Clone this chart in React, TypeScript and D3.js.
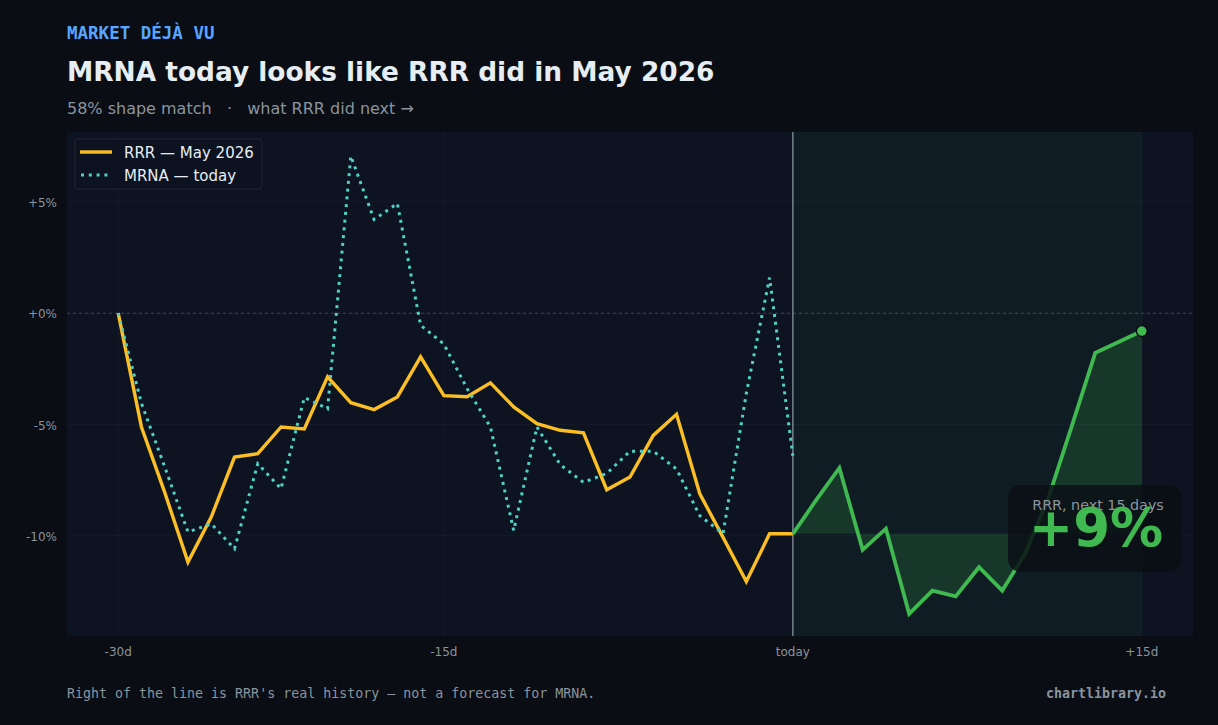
import * as d3 from 'd3';

const W = 1218;
const H = 725;

// day index: 0 = -30d ... 29 = today ... 44 = +15d
const rrrPast = [
  0, -5.11, -8.05, -11.18, -9.16, -6.46, -6.31, -5.11, -5.2, -2.86,
  -4.02, -4.33, -3.76, -1.96, -3.7, -3.75, -3.13, -4.21, -4.96, -5.26,
  -5.37, -7.93, -7.36, -5.49, -4.54, -8.11, -10.07, -12.05, -9.91, -9.91,
];
const mrnaPast = [
  0, -4.05, -6.9, -9.83, -9.46, -10.58, -6.76, -7.88, -3.79, -4.29,
  7.06, 4.21, 4.93, -0.54, -1.39, -3.39, -5.11, -9.76, -5.11, -6.8,
  -7.6, -7.2, -6.2, -6.2, -7.0, -9.1, -9.9, -3.6, 1.6, -6.4,
];
const rrrNext = [
  -9.91, -8.4, -6.95, -10.63, -9.68, -13.5, -12.46, -12.72, -11.41, -12.46,
  -10.78, -8.25, -5.04, -1.78, -1.29, -0.8,
];

const xTicks = [0, 14, 29, 44];
const xTickLabels = ['-30d', '-15d', 'today', '+15d'];
const yTicks = [5, 0, -5, -10];
const yTickLabels = ['+5%', '+0%', '-5%', '-10%'];

const TODAY = 29;
const FONT = "'DejaVu Sans', sans-serif";
const MONO = "'DejaVu Sans Mono', monospace";

export default function App() {
  const plot = { left: 67, right: 1193, top: 132, bottom: 636 };

  const x = d3.scaleLinear().domain([-2.2, 46.2]).range([plot.left, plot.right]);
  const y = d3.scaleLinear().domain([-14.5, 8.14]).range([plot.bottom, plot.top]);

  const past = (arr: number[]) => arr.map((v, i) => [i, v] as [number, number]);
  const next = rrrNext.map((v, i) => [TODAY + i, v] as [number, number]);

  const line = d3.line<[number, number]>().x(d => x(d[0])).y(d => y(d[1]));
  const area = d3
    .area<[number, number]>()
    .x(d => x(d[0]))
    .y0(y(rrrNext[0]))
    .y1(d => y(d[1]));

  const green = '#3fb950';
  const orange = '#fbbf24';
  const cyan = '#4fd1c5';
  const muted = '#8b949e';

  const last = next[next.length - 1];

  return (
    <svg width={W} height={H} style={{ position: 'fixed', left: 0, top: 0 }}>
      <rect width={W} height={H} fill="#0a0d14" />

      {/* plot background */}
      <rect x={plot.left} y={plot.top} width={plot.right - plot.left} height={plot.bottom - plot.top} fill="#0d1321" />
      <rect
        x={x(TODAY)}
        y={plot.top}
        width={x(44) - x(TODAY)}
        height={plot.bottom - plot.top}
        fill={green}
        opacity={0.06}
      />

      {/* grid */}
      {xTicks.map(t => (
        <line key={'gx' + t} x1={x(t)} x2={x(t)} y1={plot.top} y2={plot.bottom} stroke="#ffffff" strokeOpacity={0.035} />
      ))}
      {yTicks.map(t => (
        <line key={'gy' + t} x1={plot.left} x2={plot.right} y1={y(t)} y2={y(t)} stroke="#ffffff" strokeOpacity={0.035} />
      ))}
      <line
        x1={plot.left}
        x2={plot.right}
        y1={y(0)}
        y2={y(0)}
        stroke={muted}
        strokeOpacity={0.45}
        strokeWidth={0.8}
        strokeDasharray="3,3"
      />

      {/* forward area */}
      <path d={area(next) || ''} fill={green} opacity={0.18} />
      <line x1={x(TODAY)} x2={x(TODAY)} y1={plot.top} y2={plot.bottom} stroke={muted} strokeWidth={1.6} strokeOpacity={0.8} />

      <path d={line(past(rrrPast)) || ''} fill="none" stroke={orange} strokeWidth={3.4} />
      <path
        d={line(past(mrnaPast)) || ''}
        fill="none"
        stroke={cyan}
        strokeWidth={3}
        strokeDasharray="3,4.8"
      />
      <path d={line(next) || ''} fill="none" stroke={green} strokeWidth={3.8} />
      <circle cx={x(last[0])} cy={y(last[1])} r={5.5} fill={green} stroke="#0a0d14" strokeWidth={1.5} />

      {/* annotation */}
      <rect x={1008} y={485} width={174} height={87} rx={13} fill="#0b0f14" opacity={0.85} />
      <text x={1098} y={510} textAnchor="middle" fontFamily={FONT} fontSize={14.3} fill={muted}>
        RRR, next 15 days
      </text>
      <text x={1096} y={546} textAnchor="middle" fontFamily={FONT} fontSize={53} fontWeight="bold" fill={green}>
        {d3.format('+.0f')(last[1] - rrrNext[0])}%
      </text>

      {/* legend */}
      <rect x={75} y={139} width={187} height={50} rx={3} fill="#0d1321" fillOpacity={0.8} stroke="#ffffff" strokeOpacity={0.08} />
      <line x1={80} x2={112} y1={152} y2={152} stroke={orange} strokeWidth={3.4} />
      <text x={124} y={157.5} fontFamily={FONT} fontSize={15} fill="#e6edf3">
        RRR — May 2026
      </text>
      <line x1={81} x2={112} y1={175} y2={175} stroke={cyan} strokeWidth={3} strokeDasharray="3,4.8" />
      <text x={124} y={180.5} fontFamily={FONT} fontSize={15} fill="#e6edf3">
        MRNA — today
      </text>

      {/* axes labels */}
      {yTicks.map((t, i) => (
        <text key={'yl' + t} x={57} y={y(t) + 5} textAnchor="end" fontFamily={FONT} fontSize={12} fill={muted}>
          {yTickLabels[i]}
        </text>
      ))}
      {xTicks.map((t, i) => (
        <text key={'xl' + t} x={x(t)} y={656} textAnchor="middle" fontFamily={FONT} fontSize={12} fill={muted}>
          {xTickLabels[i]}
        </text>
      ))}

      {/* header */}
      <text x={67} y={39} fontFamily={MONO} fontSize={17.5} fontWeight="bold" fill="#58a6ff">
        MARKET DÉJÀ VU
      </text>
      <text x={67} y={81} fontFamily={FONT} fontSize={26.4} fontWeight="bold" fill="#e6edf3">
        MRNA today looks like RRR did in May 2026
      </text>
      <text x={67} y={114} fontFamily={FONT} fontSize={16} fill={muted} style={{ whiteSpace: 'pre' }}>
        {'58% shape match   ·   what RRR did next →'}
      </text>

      {/* footer */}
      <text x={67} y={698} fontFamily={MONO} fontSize={13.3} fill={muted}>
        Right of the line is RRR's real history — not a forecast for MRNA.
      </text>
      <text x={1166} y={698} textAnchor="end" fontFamily={MONO} fontSize={13.3} fontWeight="bold" fill={muted}>
        chartlibrary.io
      </text>
    </svg>
  );
}
